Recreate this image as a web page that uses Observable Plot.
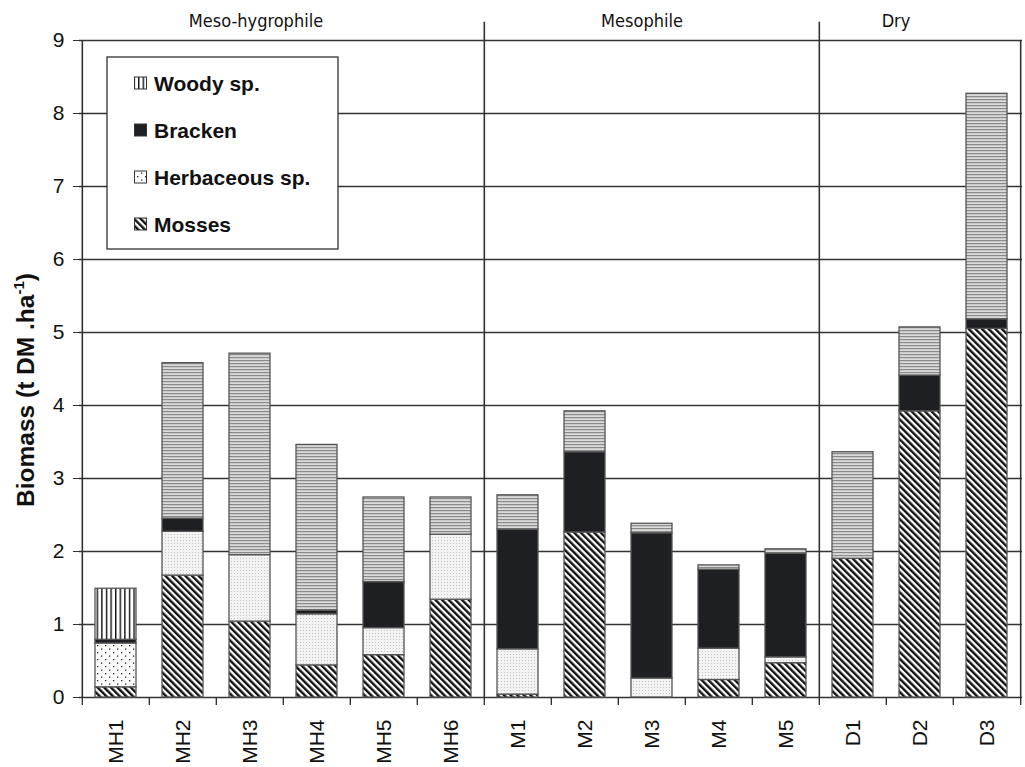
<!DOCTYPE html>
<html>
<head>
<meta charset="utf-8">
<script src="https://cdn.jsdelivr.net/npm/d3@7"></script>
<script src="https://cdn.jsdelivr.net/npm/@observablehq/plot@0.6"></script>
<style>
  html, body { margin: 0; padding: 0; background: white; }
  #chart { width: 1025px; height: 767px; }
</style>
</head>
<body>
<div id="chart"></div>
<script>
// ---- data ----
const categories = ["MH1","MH2","MH3","MH4","MH5","MH6","M1","M2","M3","M4","M5","D1","D2","D3"];
const mosses     = [0.14, 1.67, 1.04, 0.44, 0.58, 1.34, 0.04, 2.26, 0.00, 0.24, 0.47, 1.90, 3.92, 5.05];
const herbaceous = [0.60, 0.60, 0.91, 0.70, 0.37, 0.89, 0.62, 0.00, 0.26, 0.43, 0.08, 0.00, 0.00, 0.00];
const bracken    = [0.05, 0.18, 0.00, 0.05, 0.63, 0.00, 1.64, 1.10, 1.99, 1.08, 1.42, 0.00, 0.49, 0.13];
const woody      = [0.70, 2.13, 2.76, 2.27, 1.16, 0.51, 0.47, 0.56, 0.13, 0.06, 0.06, 1.46, 0.66, 3.09];
const seriesNames = ["Mosses", "Herbaceous sp.", "Bracken", "Woody sp."];
const legendOrder = ["Woody sp.", "Bracken", "Herbaceous sp.", "Mosses"];
const groupLabels = ["Meso-hygrophile", "Mesophile", "Dry"];
const groupAnchors = ["MH3", "M3", "D2"];
const groupStarts = ["M1", "D1"];
const yTicks = [0,1,2,3,4,5,6,7,8,9];
const yTitle = "Biomass (t DM .ha";
const yTitleSup = "-1";

// ---- layout ----
const W = 1025, H = 767, ML = 79, MR = 3, MT = 40, MB = 70;
const step = (W - ML - MR) / categories.length;
const groupDx = [6, -10, -24];

const values = [mosses, herbaceous, bracken, woody];
function fillFor(series, i) {
  if (series === "Mosses") return "url(#p-mosses)";
  if (series === "Bracken") return "#1e1f22";
  if (series === "Herbaceous sp.") return i === 0 ? "url(#p-herb-dots)" : "url(#p-herb)";
  return i === 0 ? "url(#p-woody-v)" : "url(#p-woody-h)";
}
const rows = categories.flatMap((c, i) =>
  seriesNames.map((s, k) => ({category: c, series: s, value: values[k][i], fill: fillFor(s, i)}))
).filter(d => d.value > 0);

const plot = Plot.plot({
  width: W, height: H,
  marginLeft: ML, marginRight: MR, marginTop: MT, marginBottom: MB,
  style: {fontFamily: "'Liberation Sans', Arial, sans-serif", background: "white", overflow: "visible"},
  x: {domain: categories, paddingInner: 0.39, paddingOuter: 0.195},
  y: {domain: [0, 9]},
  color: {type: "identity"},
  marks: [
    Plot.ruleY(yTicks, {stroke: "#333", strokeWidth: 1.6}),
    Plot.barY(rows, {x: "category", y: "value", z: "series", fill: "fill", stroke: "#555", strokeWidth: 1.3}),
    Plot.ruleX(groupStarts, {x: d => d, y1: 0, y2: 9.25, dx: -step / 2, stroke: "#333", strokeWidth: 1.6}),
    Plot.ruleX([categories[0]], {x: d => d, y1: 0, y2: 9, dx: -step / 2, stroke: "#333", strokeWidth: 1.6}),
    Plot.ruleX([categories[categories.length - 1]], {x: d => d, y1: 0, y2: 9, dx: step / 2, stroke: "#333", strokeWidth: 1.6}),
    Plot.ruleX(categories, {x: d => d, y1: 0, y2: -0.11, dx: -step / 2, stroke: "#333", strokeWidth: 1.4}),
    Plot.ruleX([categories[categories.length - 1]], {x: d => d, y1: 0, y2: -0.11, dx: step / 2, stroke: "#333", strokeWidth: 1.4}),
    Plot.axisY({ticks: yTicks, tickSize: 6, tickPadding: 9, fontSize: 21, label: null, stroke: "#333", fill: "#111"}),
    Plot.axisX({tickSize: 0, tickRotate: -90, tickPadding: 22, fontSize: 21, label: null, fill: "#111"}),
    ...groupLabels.map((g, i) => Plot.text([g], {
      x: () => groupAnchors[i], y: 9.27, text: d => d, dx: groupDx[i],
      fontSize: 18, fill: "#111", lineAnchor: "middle", textAnchor: "middle",
      fontFamily: "'DejaVu Sans Condensed', 'DejaVu Sans', sans-serif"
    }))
  ]
});
document.getElementById("chart").appendChild(plot);

const svg = d3.select(plot);
const defs = svg.insert("defs", ":first-child");
const pm = defs.append("pattern").attr("id", "p-mosses").attr("patternUnits", "userSpaceOnUse")
  .attr("width", 4.7).attr("height", 10).attr("patternTransform", "rotate(-45)");
pm.append("rect").attr("width", 4.7).attr("height", 10).attr("fill", "white");
pm.append("rect").attr("width", 2.4).attr("height", 10).attr("fill", "#111");
const ph = defs.append("pattern").attr("id", "p-herb").attr("patternUnits", "userSpaceOnUse").attr("width", 3).attr("height", 3);
ph.append("rect").attr("width", 3).attr("height", 3).attr("fill", "#f3f3f3");
ph.append("rect").attr("width", 1).attr("height", 1).attr("fill", "#c4c4c4");
const phd = defs.append("pattern").attr("id", "p-herb-dots").attr("patternUnits", "userSpaceOnUse").attr("width", 8).attr("height", 7);
phd.append("rect").attr("width", 8).attr("height", 7).attr("fill", "white");
phd.append("rect").attr("x", 1).attr("y", 1).attr("width", 1.3).attr("height", 1.3).attr("fill", "#222");
phd.append("rect").attr("x", 5).attr("y", 4.5).attr("width", 1.3).attr("height", 1.3).attr("fill", "#222");
const pw = defs.append("pattern").attr("id", "p-woody-h").attr("patternUnits", "userSpaceOnUse").attr("width", 4).attr("height", 3);
pw.append("rect").attr("width", 4).attr("height", 3).attr("fill", "#dadada");
pw.append("rect").attr("width", 4).attr("height", 1.2).attr("fill", "#8a8a8a");
const pv = defs.append("pattern").attr("id", "p-woody-v").attr("patternUnits", "userSpaceOnUse").attr("width", 4.6).attr("height", 4);
pv.append("rect").attr("width", 4.6).attr("height", 4).attr("fill", "white");
pv.append("rect").attr("width", 1.4).attr("height", 4).attr("fill", "#111");

// y-axis title with superscript
const title = svg.append("text")
  .attr("transform", `translate(34,390) rotate(-90)`)
  .attr("text-anchor", "middle")
  .attr("font-family", "'Liberation Sans', Arial, sans-serif")
  .attr("font-weight", "bold").attr("font-size", 24.5).attr("fill", "#111");
title.append("tspan").text(yTitle);
title.append("tspan").attr("font-size", 15).attr("dy", -10).text(yTitleSup);
title.append("tspan").attr("dy", 10).text(")");

// legend
const legendFill = {"Woody sp.": "url(#p-woody-v)", "Bracken": "#1e1f22", "Herbaceous sp.": "url(#p-herb-dots)", "Mosses": "url(#p-mosses)"};
const lg = svg.append("g").attr("text-anchor", "start");
lg.append("rect").attr("x", 107).attr("y", 57).attr("width", 231).attr("height", 192)
  .attr("fill", "white").attr("stroke", "#333").attr("stroke-width", 1.3);
legendOrder.forEach((name, i) => {
  const cy = 83 + i * 47;
  lg.append("rect").attr("x", 134.5).attr("y", cy - 6).attr("width", 12).attr("height", 12)
    .attr("fill", legendFill[name]).attr("stroke", "#333").attr("stroke-width", 1);
  lg.append("text").attr("x", 154).attr("y", cy).attr("dy", "0.36em").attr("text-anchor", "start")
    .attr("font-family", "'Liberation Sans', Arial, sans-serif")
    .attr("font-weight", "bold").attr("font-size", 21).attr("fill", "#111").text(name);
});
</script>
</body>
</html>
